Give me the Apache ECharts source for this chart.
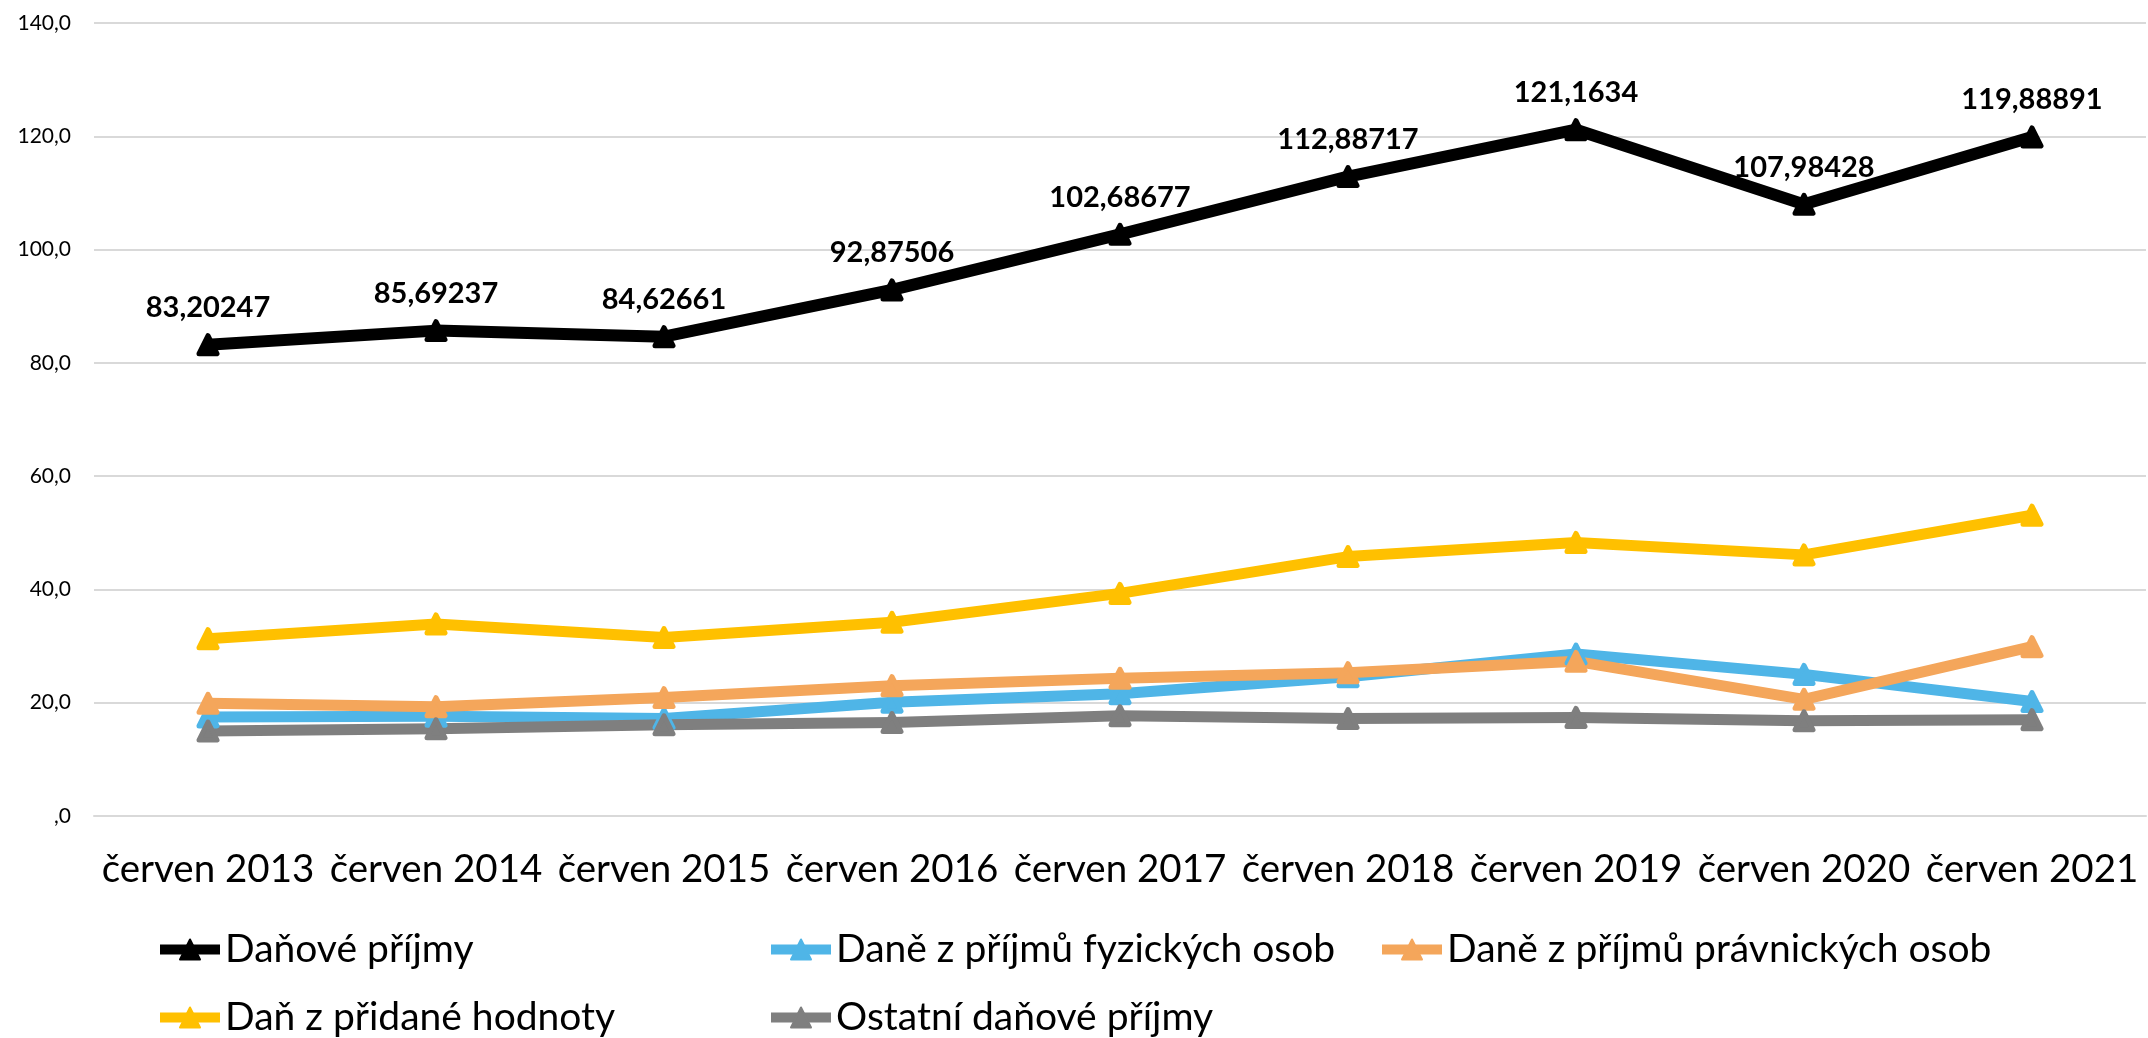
<!DOCTYPE html>
<html>
<head>
<meta charset="utf-8">
<script src="https://cdn.jsdelivr.net/npm/echarts@6/dist/echarts.min.js"></script>
<style>
  html, body { margin: 0; padding: 0; background: #fff; }
  #chart { width: 2148px; height: 1038px; }
</style>
</head>
<body>
<div id="chart"></div>
<script>
// kategorie na ose x
const categories = ['červen 2013', 'červen 2014', 'červen 2015', 'červen 2016', 'červen 2017',
  'červen 2018', 'červen 2019', 'červen 2020', 'červen 2021'];

// popisky osy y (po 20)
const yTickLabels = [',0', '20,0', '40,0', '60,0', '80,0', '100,0', '120,0', '140,0'];

// hodnoty řad (mld. Kč)
const danovePrijmy = [83.20247, 85.69237, 84.62661, 92.87506, 102.68677, 112.88717, 121.1634, 107.98428, 119.88891];
const daneFO = [17.5, 17.6, 17.2, 20.1, 21.6, 24.6, 28.6, 25.0, 20.2];
const danePO = [19.9, 19.3, 20.9, 23.0, 24.3, 25.3, 27.3, 20.6, 29.9];
const dph = [31.3, 33.9, 31.5, 34.2, 39.3, 45.8, 48.3, 46.1, 53.1];
const ostatni = [15.0, 15.4, 16.1, 16.5, 17.7, 17.2, 17.4, 16.8, 17.0];

const FONT = 'Lato, "Noto Sans", sans-serif';

// společné nastavení jedné řady
function makeSeries(name, data, color, width) {
  return {
    name: name,
    type: 'line',
    data: data,
    symbol: 'triangle',
    symbolSize: 18,
    lineStyle: { color: color, width: width, join: 'round' },
    itemStyle: { color: color, borderColor: color, borderWidth: 5, borderJoin: 'round' },
    emphasis: { disabled: true },
    animation: false
  };
}

const series = [
  makeSeries('Daňové příjmy', danovePrijmy, '#000000', 12),
  makeSeries('Daně z příjmů fyzických osob', daneFO, '#4FB5E7', 11),
  makeSeries('Daně z příjmů právnických osob', danePO, '#F4A65B', 11),
  makeSeries('Daň z přidané hodnoty', dph, '#FFC000', 11),
  makeSeries('Ostatní daňové příjmy', ostatni, '#7F7F7F', 11)
];

// popisky hodnot jen u celkových příjmů
series[0].label = {
  show: true,
  position: 'top',
  distance: 11,
  color: '#000',
  fontFamily: FONT,
  fontWeight: 'bold',
  fontSize: 29,
  formatter: p => String(p.value).replace('.', ',')
};

const chart = echarts.init(document.getElementById('chart'));

chart.setOption({
  backgroundColor: '#ffffff',
  animation: false,
  grid: { left: 94, right: 2, top: 23, bottom: 222, containLabel: false },
  xAxis: {
    type: 'category',
    data: categories,
    boundaryGap: true,
    axisLine: { show: true, lineStyle: { color: '#D9D9D9', width: 2 } },
    axisTick: { show: false },
    axisLabel: {
      interval: 0,
      margin: 34,
      color: '#000',
      fontFamily: FONT,
      fontSize: 38.5
    }
  },
  yAxis: {
    type: 'value',
    min: 0,
    max: 140,
    interval: 20,
    axisLine: { show: false },
    axisTick: { show: false },
    splitLine: { lineStyle: { color: '#D9D9D9', width: 2 } },
    axisLabel: {
      margin: 23,
      color: '#000',
      fontFamily: FONT,
      fontSize: 21,
      formatter: v => yTickLabels[Math.round(v / 20)]
    }
  },
  legend: {
    left: 150,
    top: 925,
    width: 1900,
    padding: 5,
    itemWidth: 60,
    itemHeight: 25,
    itemGap: 29,
    lineStyle: { width: 10 },
    textStyle: {
      color: '#000',
      fontFamily: FONT,
      fontSize: 39,
      width: 512,
      lineHeight: 39
    },
    data: series.map(s => s.name)
  },
  series: series
});
</script>
</body>
</html>
